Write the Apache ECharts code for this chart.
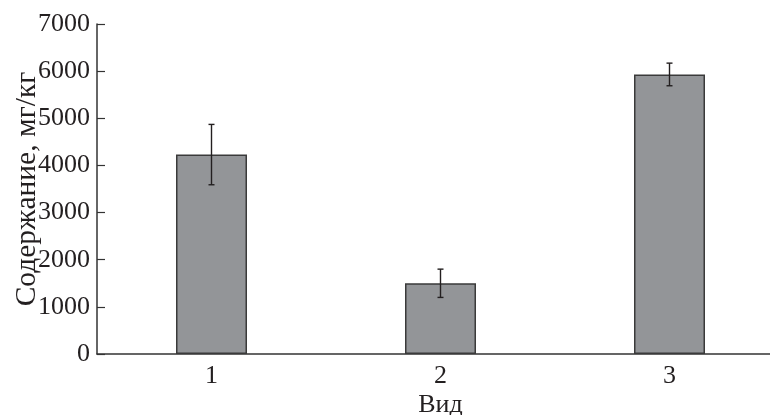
<!DOCTYPE html>
<html>
<head>
<meta charset="utf-8">
<script src="https://cdn.jsdelivr.net/npm/echarts@6/dist/echarts.min.js"></script>
<style>html,body{margin:0;padding:0;background:#fff;}#c{width:770px;height:415px;}</style>
</head>
<body>
<div id="c"></div>
<script>
const categories = ['1', '2', '3'];
const values = [4230, 1500, 5930];
const errors = [640, 300, 240];
const yTicks = [0, 1000, 2000, 3000, 4000, 5000, 6000, 7000];

const FONT = '"Liberation Serif", "Times New Roman", serif';
const chart = echarts.init(document.getElementById('c'), null, {renderer: 'canvas'});
const errData = categories.map((c, i) => [i, values[i] - errors[i], values[i] + errors[i]]);

chart.setOption({
  animation: false,
  backgroundColor: '#fff',
  grid: {left: 97, top: 24, right: -14, bottom: 61, containLabel: false, outerBoundsMode: 'none'},
  xAxis: {
    type: 'category',
    data: categories,
    name: 'Вид',
    nameLocation: 'middle',
    nameGap: 38,
    nameMoveOverlap: false,
    nameTextStyle: {fontFamily: FONT, fontSize: 26, color: '#231f20'},
    axisLine: {lineStyle: {color: '#333', width: 1.5}},
    axisTick: {show: false},
    axisLabel: {fontFamily: FONT, fontSize: 26, color: '#231f20', margin: 9}
  },
  yAxis: {
    type: 'value',
    min: 0, max: 7000, interval: 1000,
    name: 'Содержание, мг/кг',
    nameLocation: 'middle',
    nameGap: 55,
    nameMoveOverlap: false,
    nameTextStyle: {fontFamily: FONT, fontSize: 29.5, color: '#231f20'},
    axisLine: {show: true, lineStyle: {color: '#333', width: 1.5}},
    axisTick: {show: true, inside: true, length: 8, lineStyle: {color: '#333', width: 1.2}},
    splitLine: {show: false},
    axisLabel: {fontFamily: FONT, fontSize: 26, color: '#231f20', margin: 7,
      formatter: v => yTicks.includes(v) ? String(v) : ''}
  },
  series: [
    {
      type: 'bar',
      data: values,
      barWidth: 71,
      itemStyle: {color: '#939598', borderColor: '#3a3a3a', borderWidth: 1.5}
    },
    {
      type: 'custom',
      data: errData,
      z: 10,
      renderItem: function (params, api) {
        const x = api.coord([api.value(0), api.value(1)])[0];
        const lo = api.coord([api.value(0), api.value(1)])[1];
        const hi = api.coord([api.value(0), api.value(2)])[1];
        const hw = 3;
        const style = {stroke: '#231f20', lineWidth: 1.4};
        return {
          type: 'group',
          children: [
            {type: 'line', shape: {x1: x, y1: lo, x2: x, y2: hi}, style: style},
            {type: 'line', shape: {x1: x - hw, y1: hi, x2: x + hw, y2: hi}, style: style},
            {type: 'line', shape: {x1: x - hw, y1: lo, x2: x + hw, y2: lo}, style: style}
          ]
        };
      }
    }
  ]
});
</script>
</body>
</html>
